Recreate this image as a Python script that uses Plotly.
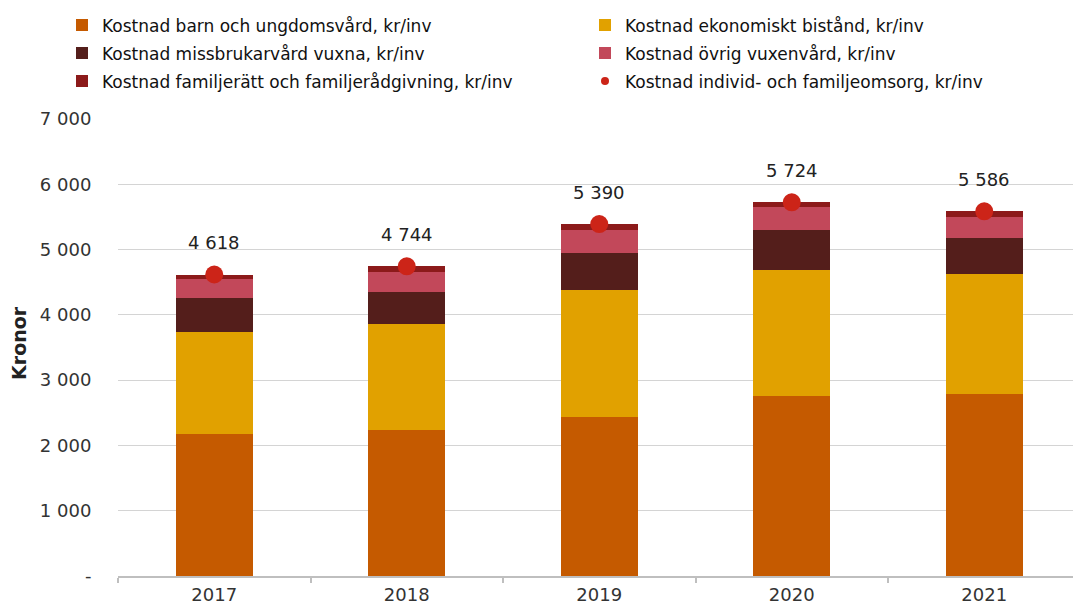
import plotly.graph_objects as go

# ---- data ----
years = ["2017", "2018", "2019", "2020", "2021"]
barn = [2170, 2232, 2436, 2753, 2784]
ekonomiskt = [1565, 1624, 1946, 1940, 1848]
missbruk = [520, 490, 571, 604, 551]
ovrig = [300, 315, 348, 352, 317]
familj = [63, 83, 89, 75, 86]
total = [4618, 4744, 5390, 5724, 5586]

ytick_vals = [0, 1000, 2000, 3000, 4000, 5000, 6000, 7000]
ytick_text = ["-", "1 000", "2 000", "3 000", "4 000", "5 000", "6 000", "7 000"]

names = [
    "Kostnad barn och ungdomsvård, kr/inv",
    "Kostnad ekonomiskt bistånd, kr/inv",
    "Kostnad missbrukarvård vuxna, kr/inv",
    "Kostnad övrig vuxenvård, kr/inv",
    "Kostnad familjerätt och familjerådgivning, kr/inv",
    "Kostnad individ- och familjeomsorg, kr/inv",
]
colors = ["#C55A00", "#E1A100", "#541E1B", "#C2485A", "#8C1A1A", "#CC2418"]
legend_ids = ["legend", "legend", "legend2", "legend2", "legend3", "legend3"]

FONT = "DejaVu Sans"
TXT = "#333333"

fig = go.Figure()
series = [barn, ekonomiskt, missbruk, ovrig, familj]
for i, s in enumerate(series):
    fig.add_trace(go.Bar(
        x=years, y=s, name=names[i], marker=dict(color=colors[i], line=dict(width=0)),
        width=0.4, legend=legend_ids[i],
    ))

# legend-only entry for the dot series (small symbol)
fig.add_trace(go.Scatter(
    x=[None], y=[None], mode="markers", name=names[5],
    marker=dict(color=colors[5], size=8), legend="legend3",
))
# actual dots
fig.add_trace(go.Scatter(
    x=years, y=total, mode="markers", showlegend=False,
    marker=dict(color=colors[5], size=18),
))

for i, t in enumerate(total):
    fig.add_annotation(
        x=i, y=t, xref="x", yref="y", text=f"{t:,}".replace(",", " "), showarrow=False,
        yshift=32, font=dict(family=FONT, size=18, color="#222222"),
    )

fig.add_annotation(
    xref="paper", yref="paper", x=-0.1037, y=0.51, text="<b>Kronor</b>",
    textangle=-90, showarrow=False, xanchor="center", yanchor="middle",
    font=dict(family=FONT, size=19, color="#222222"),
)

W, H = 1073, 608
L, R, T, B = 118, 0, 119, 32
ph = H - T - B
pw = W - L - R

def py(px):
    return (H - B - px) / ph

def pxx(px):
    return (px - L) / pw

leg_common = dict(
    orientation="h", entrywidth=478, entrywidthmode="pixels",
    x=pxx(62), xanchor="left", yanchor="top",
    bgcolor="rgba(0,0,0,0)", borderwidth=0,
    font=dict(family=FONT, size=17, color="#111111"),
    traceorder="normal",
)

fig.update_layout(
    width=W, height=H,
    margin=dict(l=L, r=R, t=T, b=B, autoexpand=False),
    paper_bgcolor="white", plot_bgcolor="white",
    barmode="stack", bargap=0.6,
    font=dict(family=FONT, size=18, color=TXT),
    legend=dict(**leg_common, y=py(7.5)),
    legend2=dict(**leg_common, y=py(35.5)),
    legend3=dict(**leg_common, y=py(63.5)),
    xaxis=dict(
        type="category", range=[-0.5, 4.461],
        showline=True, linecolor="#BFBFBF", linewidth=1.5,
        ticks="outside", tickson="boundaries", ticklen=5, tickcolor="#BFBFBF", tickwidth=1.5,
        ticklabelstandoff=2,
        showgrid=False, tickfont=dict(family=FONT, size=18, color=TXT),
    ),
    yaxis=dict(
        range=[0, 7000], tickvals=ytick_vals, ticktext=ytick_text,
        showgrid=True, gridcolor="#D4D4D4", gridwidth=1.3,
        zeroline=False, showline=False,
        ticks="outside", ticklen=22, tickcolor="rgba(0,0,0,0)",
        tickfont=dict(family=FONT, size=18, color=TXT),
    ),
    showlegend=True,
)

fig.write_html("out.html", config={"displayModeBar": False},
               post_script="document.body.style.margin='0';")
